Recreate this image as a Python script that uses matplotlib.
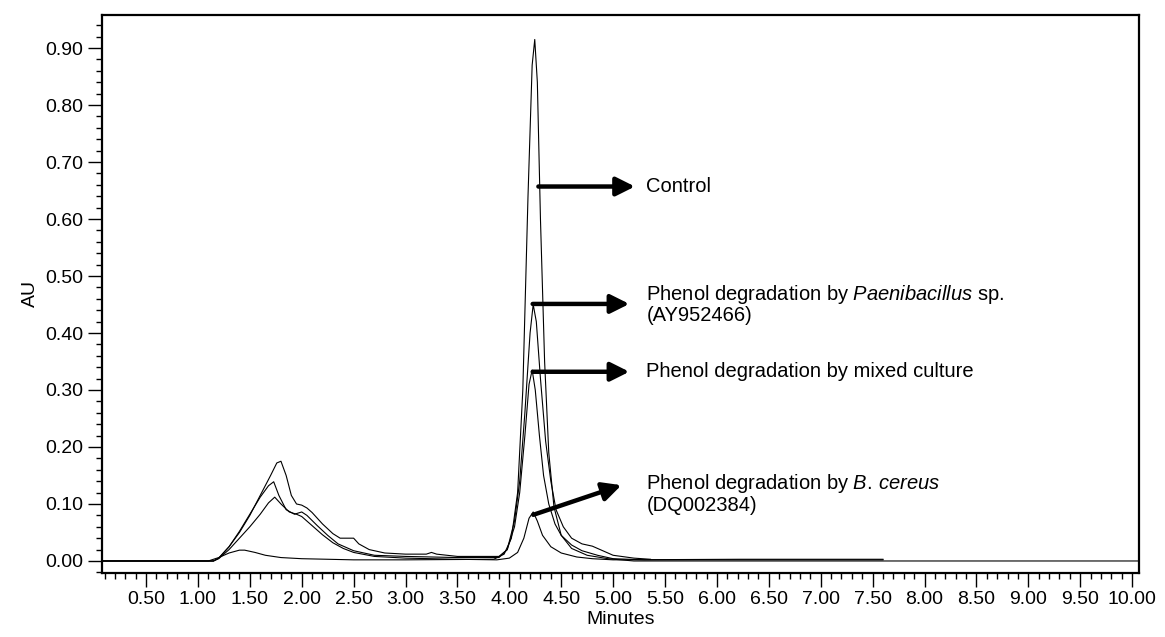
import matplotlib
matplotlib.use("Agg")
import matplotlib.pyplot as plt
from matplotlib.ticker import MultipleLocator, FormatStrFormatter

plt.rcParams["font.family"] = ["Liberation Sans", "DejaVu Sans"]
plt.rcParams["mathtext.fontset"] = "custom"
plt.rcParams["mathtext.rm"] = "Liberation Sans"
plt.rcParams["mathtext.it"] = "Liberation Sans:italic"

# retention time (min) / absorbance (AU)
ctrl_t = [0.07, 1.10, 1.20, 1.30, 1.40, 1.45, 1.55, 1.65, 1.80, 2.00, 2.50, 3.00, 3.85,
          3.95, 4.02, 4.08, 4.13, 4.18, 4.22, 4.245, 4.27, 4.30, 4.34, 4.38, 4.43, 4.50,
          4.60, 4.75, 4.95, 5.20, 10.07]
ctrl_y = [0.000, 0.000, 0.006, 0.014, 0.019, 0.019, 0.015, 0.010, 0.006, 0.004, 0.002, 0.002, 0.003,
          0.012, 0.040, 0.120, 0.300, 0.640, 0.870, 0.915, 0.840, 0.600, 0.350, 0.190, 0.095, 0.045,
          0.022, 0.010, 0.004, 0.000, 0.000]

paeni_t = [0.07, 1.15, 1.20, 1.30, 1.40, 1.50, 1.60, 1.70, 1.76, 1.80, 1.85, 1.90, 1.95, 2.00,
           2.05, 2.10, 2.20, 2.30, 2.37, 2.50, 2.55, 2.65, 2.80, 3.00, 3.20, 3.25, 3.30, 3.50,
           3.90, 3.98, 4.05, 4.10, 4.15, 4.20, 4.23, 4.26, 4.30, 4.35, 4.40, 4.45, 4.52, 4.60,
           4.70, 4.80, 4.90, 5.00, 5.20, 5.36]
paeni_y = [0.000, 0.000, 0.005, 0.025, 0.050, 0.080, 0.115, 0.150, 0.172, 0.175, 0.150, 0.115, 0.100, 0.098,
           0.093, 0.085, 0.065, 0.048, 0.040, 0.040, 0.030, 0.020, 0.014, 0.012, 0.012, 0.015, 0.012, 0.008,
           0.008, 0.020, 0.070, 0.140, 0.260, 0.400, 0.450, 0.420, 0.320, 0.210, 0.140, 0.090, 0.060, 0.040,
           0.030, 0.026, 0.018, 0.010, 0.005, 0.003]

mixed_t = [0.07, 1.15, 1.20, 1.30, 1.40, 1.50, 1.60, 1.68, 1.73, 1.78, 1.85, 1.93, 2.00, 2.05,
           2.15, 2.25, 2.35, 2.50, 2.70, 3.00, 3.50, 3.90, 3.98, 4.05, 4.10, 4.15, 4.19, 4.22,
           4.25, 4.29, 4.33, 4.38, 4.44, 4.50, 4.60, 4.70, 4.85, 5.00, 5.30, 6.22, 7.60]
mixed_y = [0.000, 0.000, 0.005, 0.025, 0.052, 0.082, 0.112, 0.132, 0.139, 0.115, 0.090, 0.082, 0.086, 0.080,
           0.062, 0.045, 0.030, 0.018, 0.010, 0.008, 0.006, 0.006, 0.020, 0.060, 0.120, 0.220, 0.310, 0.335,
           0.300, 0.220, 0.150, 0.100, 0.065, 0.045, 0.028, 0.018, 0.010, 0.004, 0.002, 0.002, 0.002]

cereus_t = [0.07, 1.15, 1.20, 1.30, 1.40, 1.50, 1.60, 1.68, 1.74, 1.80, 1.88, 1.95, 2.00, 2.10,
            2.20, 2.30, 2.40, 2.50, 2.70, 3.00, 3.50, 3.88, 4.00, 4.08, 4.14, 4.19, 4.23, 4.27,
            4.32, 4.40, 4.50, 4.65, 4.80, 5.00, 6.22, 7.60]
cereus_y = [0.000, 0.000, 0.004, 0.020, 0.040, 0.060, 0.082, 0.102, 0.112, 0.100, 0.086, 0.082, 0.078, 0.062,
            0.046, 0.032, 0.022, 0.015, 0.008, 0.005, 0.003, 0.002, 0.005, 0.015, 0.040, 0.075, 0.086, 0.070,
            0.045, 0.025, 0.014, 0.007, 0.004, 0.002, 0.003, 0.003]

labels = ["Control",
          "Phenol degradation by $\\it{Paenibacillus}$ sp.\n(AY952466)",
          "Phenol degradation by mixed culture",
          "Phenol degradation by $\\it{B.\\,cereus}$\n(DQ002384)"]
arrow_start = [(4.28, 0.657), (4.225, 0.451), (4.225, 0.332), (4.231, 0.081)]
arrow_end = [(5.21, 0.657), (5.156, 0.451), (5.156, 0.332), (5.08, 0.133)]
text_pos = [(5.32, 0.657), (5.32, 0.451), (5.32, 0.332), (5.32, 0.118)]

fig = plt.figure(figsize=(11.65, 6.37), dpi=100)
ax = fig.add_axes([0.0873, 0.101, 0.8907, 0.8755])

for t, y in [(ctrl_t, ctrl_y), (paeni_t, paeni_y), (mixed_t, mixed_y), (cereus_t, cereus_y)]:
    ax.plot(t, y, color="black", lw=0.8)

for lab, s, e, p in zip(labels, arrow_start, arrow_end, text_pos):
    ax.annotate("", xy=e, xytext=s,
                arrowprops=dict(arrowstyle="-|>", color="black", lw=3.2,
                                mutation_scale=28, shrinkA=0, shrinkB=0))
    ax.text(p[0], p[1], lab, fontsize=14.5, va="center", ha="left", linespacing=1.05)

ax.set_xlim(0.073, 10.07)
ax.set_ylim(-0.0205, 0.958)
ax.xaxis.set_major_locator(MultipleLocator(0.5))
ax.xaxis.set_minor_locator(MultipleLocator(0.1))
ax.yaxis.set_major_locator(MultipleLocator(0.1))
ax.yaxis.set_minor_locator(MultipleLocator(0.02))
ax.xaxis.set_major_formatter(FormatStrFormatter("%.2f"))
ax.yaxis.set_major_formatter(FormatStrFormatter("%.2f"))
ax.tick_params(which="major", length=10, width=1, labelsize=14, direction="out")
ax.tick_params(which="minor", length=4, width=1, direction="out")
for sp in ax.spines.values():
    sp.set_linewidth(1.6)

ax.set_xlabel("Minutes", fontsize=14, labelpad=2)
ax.set_ylabel("AU", fontsize=14)

fig.savefig("out.png", dpi=100)
